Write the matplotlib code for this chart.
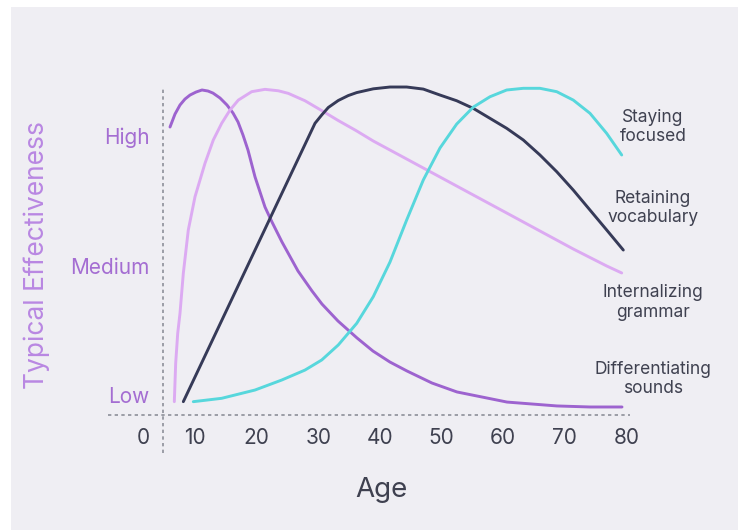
import matplotlib.pyplot as plt
from matplotlib.patches import Rectangle

# Ages / effectiveness (1 = Low, 2 = Medium, 3 = High)
sounds_age = [5.91, 6.72, 7.53, 8.34, 9.16, 10.13, 11.10, 12.08, 12.89, 14.03,
              15.16, 16.14, 16.95, 17.76, 18.57, 19.71, 21.33, 22.47, 24.09,
              26.69, 28.96, 30.58, 33.18, 36.27, 38.86, 41.62, 44.38, 48.44,
              52.50, 56.56, 60.62, 64.68, 68.73, 74.09, 79.29]
sounds_eff = [3.085, 3.185, 3.255, 3.301, 3.332, 3.355, 3.371, 3.363, 3.347, 3.309,
              3.255, 3.193, 3.124, 3.023, 2.907, 2.700, 2.467, 2.351, 2.197,
              1.973, 1.819, 1.718, 1.587, 1.456, 1.355, 1.270, 1.201, 1.108,
              1.039, 1.000, 0.961, 0.946, 0.931, 0.923, 0.923]

grammar_age = [6.61, 6.83, 7.16, 7.53, 8.07, 8.88, 9.97, 11.59, 12.94, 14.30,
               15.65, 17.00, 19.17, 21.33, 23.49, 25.11, 27.82, 30.54, 33.23,
               36.10, 38.91, 44.33, 49.74, 55.15, 60.57, 65.97, 71.38, 76.80,
               79.24]
grammar_eff = [0.964, 1.260, 1.492, 1.646, 1.955, 2.290, 2.547, 2.805, 2.985, 3.114,
               3.216, 3.293, 3.358, 3.376, 3.365, 3.345, 3.288, 3.212, 3.135,
               3.058, 2.977, 2.838, 2.699, 2.560, 2.421, 2.282, 2.143, 2.012,
               1.958]

vocab_age = [8.07, 29.45, 30.54, 31.61, 33.23, 34.85, 36.22, 38.91, 41.62, 44.33,
             47.03, 49.74, 52.45, 55.15, 57.86, 60.57, 63.26, 65.97, 68.69,
             71.38, 74.09, 76.80, 79.50]
vocab_eff = [0.964, 3.114, 3.178, 3.236, 3.290, 3.328, 3.351, 3.380, 3.394, 3.394,
             3.378, 3.332, 3.288, 3.229, 3.152, 3.075, 2.985, 2.869, 2.740,
             2.598, 2.444, 2.290, 2.135]

focus_age = [9.69, 14.30, 19.71, 24.04, 27.82, 30.54, 33.23, 36.22, 38.91, 41.62,
             44.33, 47.03, 49.74, 52.45, 55.15, 57.86, 60.57, 63.26, 65.97,
             68.69, 71.38, 74.09, 76.80, 79.24]
focus_eff = [0.964, 0.990, 1.054, 1.131, 1.208, 1.286, 1.402, 1.569, 1.775, 2.042,
             2.367, 2.676, 2.923, 3.108, 3.239, 3.319, 3.371, 3.384, 3.384,
             3.358, 3.293, 3.191, 3.036, 2.869]

x_ticks = [10, 20, 30, 40, 50, 60, 70, 80]
y_levels = [1, 2, 3]
y_labels = ["Low", "Medium", "High"]

series_names = ["Staying\nfocused", "Retaining\nvocabulary",
                "Internalizing\ngrammar", "Differentiating\nsounds"]
series_label_y = [3.085, 2.46, 1.73, 1.14]

PURPLE = "#9d63cf"
LILAC = "#dcaaf2"
NAVY = "#363a58"
CYAN = "#57d7dc"
TEXT = "#3f4150"
TICK_PURPLE = "#a46dd2"
LABEL_PURPLE = "#b987e2"
GRID = "#8d9099"
BG = "#efeef3"

plt.rcParams['font.family'] = ['Inter', 'DejaVu Sans']

fig = plt.figure(figsize=(7.38, 5.30), dpi=100, facecolor="white")

ax = fig.add_axes([0, 0, 1, 1])
ax.set_facecolor("white")
ax.set_xlim(-21.69, 98.12)
ax.set_ylim(-0.027, 4.066)
ax.axis("off")

# light panel behind everything
ax.add_patch(Rectangle((11 / 738, 0), 1, 523 / 530, transform=ax.transAxes,
                       facecolor=BG, edgecolor="none", zorder=0))

# dotted axis lines
ax.plot([4.8, 4.8], [0.57, 3.38], color=GRID, lw=1.2, ls=(0, (2, 2)))
ax.plot([-4.15, 80.6], [0.861, 0.861], color=GRID, lw=1.2, ls=(0, (2, 2)))

for xs, ys, c in [(sounds_age, sounds_eff, PURPLE),
                  (grammar_age, grammar_eff, LILAC),
                  (vocab_age, vocab_eff, NAVY),
                  (focus_age, focus_eff, CYAN)]:
    ax.plot(xs, ys, color=c, lw=2.1, solid_capstyle="round",
            solid_joinstyle="round")

# tick labels
ax.text(1.5, 0.68, "0", color=TEXT, fontsize=15, ha="center", va="center")
for t in x_ticks:
    ax.text(t, 0.68, str(t), color=TEXT, fontsize=15, ha="center", va="center")
for v, lab in zip(y_levels, y_labels):
    ax.text(2.6, v, lab, color=TICK_PURPLE, fontsize=15, ha="right", va="center")

for name, y in zip(series_names, series_label_y):
    ax.text(84.3, y, name, color=TEXT, fontsize=12.5, ha="center", va="center",
            linespacing=1.2)

ax.text(40.3, 0.28, "Age", color=TEXT, fontsize=20, ha="center", va="center")
ax.text(-15.8, 2.10, "Typical Effectiveness", color=LABEL_PURPLE, fontsize=19,
        ha="center", va="center", rotation=90)

fig.savefig("out.png", dpi=100, facecolor="white")
